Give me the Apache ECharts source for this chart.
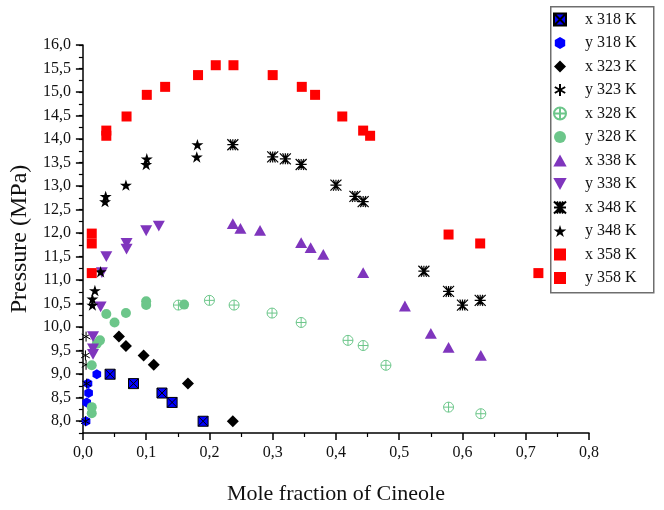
<!DOCTYPE html>
<html>
<head>
<meta charset="utf-8">
<script src="https://cdn.jsdelivr.net/npm/echarts@6/dist/echarts.min.js"></script>
<style>
  html, body { margin: 0; padding: 0; background: #fff; }
  #chartBox { width: 664px; height: 510px; }
</style>
</head>
<body>
<div id="chartBox"></div>
<script>
// tick labels
const xTicks = [0, 0.1, 0.2, 0.3, 0.4, 0.5, 0.6, 0.7, 0.8];
const yTicks = [8, 8.5, 9, 9.5, 10, 10.5, 11, 11.5, 12, 12.5, 13, 13.5, 14, 14.5, 15, 15.5, 16];

// [mole fraction, pressure]
const x318 = [[0.043, 9.0], [0.080, 8.8], [0.125, 8.6], [0.141, 8.4], [0.190, 8.0]];
const y318 = [[0.022, 9.0], [0.008, 8.8], [0.009, 8.6], [0.006, 8.4], [0.005, 8.0]];
const x323 = [[0.057, 9.8], [0.068, 9.6], [0.096, 9.4], [0.112, 9.2], [0.166, 8.8], [0.237, 8.0]];
const y323 = [[0.005, 9.8], [0.004, 9.4], [0.005, 9.2], [0.006, 8.8], [0.004, 8.0]];
const x328 = [[0.151, 10.47], [0.200, 10.57], [0.239, 10.47], [0.299, 10.3], [0.345, 10.1], [0.419, 9.72], [0.443, 9.61], [0.479, 9.19], [0.578, 8.30], [0.629, 8.16]];
const y328 = [[0.014, 8.17], [0.014, 8.3], [0.014, 9.19], [0.022, 9.65], [0.027, 9.72], [0.037, 10.28], [0.050, 10.1], [0.068, 10.3], [0.100, 10.47], [0.100, 10.55], [0.160, 10.48]];
const x338 = [[0.237, 12.2], [0.249, 12.1], [0.280, 12.06], [0.345, 11.8], [0.360, 11.69], [0.380, 11.55], [0.443, 11.16], [0.509, 10.45], [0.550, 9.87], [0.578, 9.57], [0.629, 9.40]];
const y338 = [[0.120, 12.15], [0.100, 12.05], [0.069, 11.78], [0.069, 11.66], [0.037, 11.5], [0.030, 11.16], [0.028, 10.43], [0.016, 9.8], [0.016, 9.54], [0.016, 9.42]];
const x348 = [[0.237, 13.88], [0.300, 13.62], [0.320, 13.58], [0.345, 13.46], [0.400, 13.02], [0.430, 12.78], [0.443, 12.67], [0.539, 11.19], [0.578, 10.76], [0.600, 10.47], [0.628, 10.57]];
const y348 = [[0.015, 10.47], [0.015, 10.6], [0.019, 10.78], [0.028, 11.18], [0.035, 12.67], [0.036, 12.78], [0.068, 13.02], [0.100, 13.46], [0.101, 13.58], [0.180, 13.62], [0.181, 13.88]];
const x358 = [[0.238, 15.57], [0.300, 15.36], [0.346, 15.11], [0.367, 14.94], [0.410, 14.48], [0.443, 14.18], [0.454, 14.07], [0.578, 11.97], [0.628, 11.78], [0.720, 11.15]];
const y358 = [[0.014, 11.15], [0.014, 11.78], [0.014, 11.99], [0.037, 14.07], [0.037, 14.18], [0.069, 14.48], [0.101, 14.94], [0.130, 15.11], [0.182, 15.36], [0.210, 15.57]];

const FONT = '"Liberation Serif", "DejaVu Serif", serif';
const BLUE = '#0000ff', GREEN = '#6cc68a', PURPLE = '#7f35bd', RED = '#ff0000';

const sym = {
  boxX: 'path://M0,0 L10,0 L10,10 L0,10 Z M0,0 L10,10 M10,0 L0,10',
  hex: 'path://M5,0 L9.33,2.5 L9.33,7.5 L5,10 L0.67,7.5 L0.67,2.5 Z',
  diamond: 'path://M5,0 L10,5 L5,10 L0,5 Z',
  aster: 'path://M5,0 L5,10 M0.67,2.5 L9.33,7.5 M0.67,7.5 L9.33,2.5',
  circPlus: 'path://M0,5 A5,5 0 1 1 10,5 A5,5 0 1 1 0,5 Z M5,0 L5,10 M0,5 L10,5',
  up: 'path://M5,0 L10,9 L0,9 Z',
  down: 'path://M0,0 L10,0 L5,9 Z',
  xAster: 'path://M0,0 L10,10 M10,0 L0,10 M5,0 L5,10 M0,5 L10,5 M2.5,0 L7.5,10 M7.5,0 L2.5,10',
  star: 'path://M5,0 L6.18,3.62 L10,3.62 L6.91,5.86 L8.09,9.51 L5,7.27 L1.91,9.51 L3.09,5.86 L0,3.62 L3.82,3.62 Z',
  square: 'path://M0,0 L10,0 L10,10 L0,10 Z'
};

function mk(name, data, symbol, size, style){
  style.opacity = 1;
  return {
    name: name, type: 'scatter', data: data,
    symbol: symbol, symbolSize: size, symbolKeepAspect: true,
    itemStyle: style
  };
}

const series = [
  mk('x 318 K', x318, sym.boxX, 10, {color: BLUE, borderColor: '#000', borderWidth: 1}),
  mk('y 318 K', y318, sym.hex, 10, {color: BLUE}),
  mk('x 323 K', x323, sym.diamond, 12, {color: '#000'}),
  mk('y 323 K', y323, sym.aster, 10, {color: 'transparent', borderColor: '#000', borderWidth: 1}),
  mk('x 328 K', x328, sym.circPlus, 10, {color: 'transparent', borderColor: GREEN, borderWidth: 1}),
  mk('y 328 K', y328, 'circle', 10, {color: GREEN}),
  mk('x 338 K', x338, sym.up, 12, {color: PURPLE}),
  mk('y 338 K', y338, sym.down, 12, {color: PURPLE}),
  mk('x 348 K', x348, sym.xAster, 11, {color: 'transparent', borderColor: '#000', borderWidth: 1.2}),
  mk('y 348 K', y348, sym.star, 12, {color: '#000'}),
  mk('x 358 K', x358, sym.square, 10, {color: RED}),
  mk('y 358 K', y358, sym.square, 10, {color: RED})
];

const fmt = function(v){ return v.toFixed(1).replace('.', ','); };

const myChart = echarts.init(document.getElementById('chartBox'));
myChart.setOption({
  animation: false,
  textStyle: {fontFamily: FONT},
  grid: {left: 81, right: 75, top: 45, bottom: 72},
  graphic: [{
    type: 'rect', left: 550, top: 6, z: 5,
    shape: {width: 103, height: 286},
    style: {fill: '#fff', stroke: '#6e6e6e', lineWidth: 1.5}
  }],
  legend: {
    orient: 'vertical', left: 550, top: 6, z: 10,
    padding: [5.5, 3, 5, 3],
    itemWidth: 40, itemHeight: 12, itemGap: 7.5,
    textStyle: {fontFamily: FONT, fontSize: 16, lineHeight: 16, color: '#111'},
    data: series.map(function(s){ return s.name; })
  },
  xAxis: {
    type: 'value', min: 0, max: 0.8, interval: 0.1,
    name: 'Mole fraction of Cineole', nameLocation: 'middle', nameGap: 50,
    nameTextStyle: {fontFamily: FONT, fontSize: 22, color: '#111'},
    axisLine: {lineStyle: {color: '#000', width: 1.5}},
    axisTick: {length: 7, lineStyle: {color: '#000', width: 1.5}},
    minorTick: {show: true, splitNumber: 2, length: 4, lineStyle: {color: '#000', width: 1.2}},
    axisLabel: {customValues: xTicks, formatter: fmt, margin: 12, fontSize: 16, color: '#111', fontFamily: FONT},
    splitLine: {show: false}
  },
  yAxis: [{
    type: 'value', min: 7.75, max: 16, interval: 0.25,
    name: 'Pressure (MPa)', nameLocation: 'middle', nameGap: 42,
    nameTextStyle: {fontFamily: FONT, fontSize: 24, color: '#111'},
    axisLine: {show: true, lineStyle: {color: '#000', width: 1.5}},
    axisTick: {show: true, customValues: yTicks, length: 7, lineStyle: {color: '#000', width: 1.5}},
    axisLabel: {customValues: yTicks, formatter: fmt, margin: 12, fontSize: 16, color: '#111', fontFamily: FONT},
    splitLine: {show: false}
  }, {
    type: 'value', min: 7.75, max: 16, interval: 0.25, position: 'left',
    axisLine: {show: false},
    axisTick: {show: true, length: 4, lineStyle: {color: '#000', width: 1.2}},
    axisLabel: {show: false},
    splitLine: {show: false}
  }],
  series: series
});
</script>
</body>
</html>
